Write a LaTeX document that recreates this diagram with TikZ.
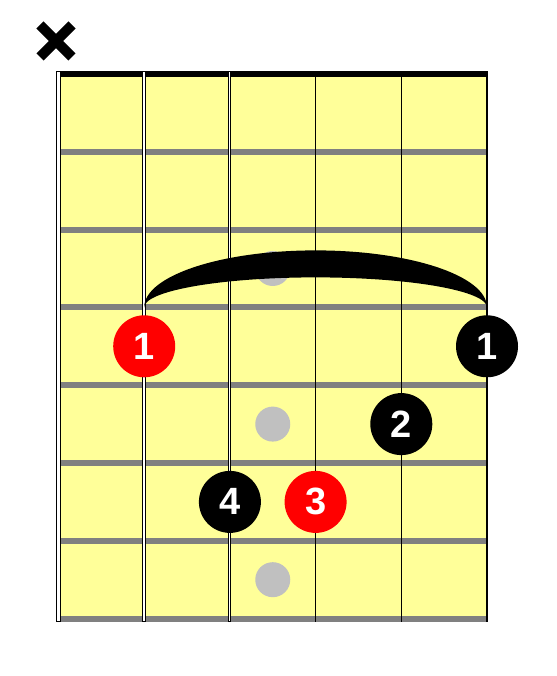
\documentclass[tikz,border=0pt]{standalone}
\usepackage{fontspec}
\setmainfont{Liberation Sans}
\usepackage{tikz}

\definecolor{board}{HTML}{FFFF99}
\definecolor{fretgray}{HTML}{808080}
\definecolor{dotgray}{HTML}{C0C0C0}

\begin{document}
\begin{tikzpicture}[x=1pt, y=1pt,
        finger/.style={circle, fill=black, text=white, minimum size=62pt, inner sep=0pt,
                       font=\fontsize{38}{38}\selectfont\bfseries},
        root/.style={finger, fill=red},
        marker/.style={circle, fill=dotgray, minimum size=35pt, inner sep=0pt}]
                \useasboundingbox (0,0) rectangle (556,676);

                % Fretboard
                \fill[board] (58.5,57.4) rectangle (487,602);
                % Frets (spacing 77.8)
                \foreach \k in {1,...,7}
                    \fill[fretgray] (58.5,{602-77.8*\k-3}) rectangle (487,{602-77.8*\k+3});
                % Nut
                \fill[black] (57,599) rectangle (487,605);

                % Position markers on frets 3, 5 and 7
                \node[marker] (m3) at (272.75,407.5) {};
                \node[marker] (m5) at (272.75,251.9) {};
                \node[marker] (m7) at (272.75,96.3) {};

                % Strings - the three low ones are wound (white core)
                \foreach \x/\outer/\inner in {58.5/5/3, 144.2/4.5/2.4, 229.9/3/1}{
                    \draw[line width=\outer pt] (\x,54) -- (\x,605);
                    \draw[white, line width=\inner pt] (\x,55) -- (\x,604);
                }
                \foreach \x/\w in {315.6/1.2, 401.3/1.4, 487/2}
                    \draw[line width=\w pt] (\x,54) -- (\x,605);

                % Muted low string
                \draw[line width=10pt] (40,651) -- (72,619) (40,619) -- (72,651);

                % Barre across strings 2 to 6, resting on the third fret
                \coordinate (b2) at (144.2,368.6);
                \coordinate (b6) at (487,368.6);
                \fill (b2) arc[start angle=180, end angle=0, x radius=171.4pt, y radius=57pt]
                      arc[start angle=0, end angle=180, x radius=171.4pt, y radius=30pt] -- cycle;

                % Fingers
                \node[root] (f1) at (144.2,329.7) {1};
                \node[finger] (f1b) at (487,329.7) {1};
                \node[finger] (f2) at (401.3,251.9) {2};
                \node[finger] (f4) at (229.9,174.1) {4};
                \node[root] (f3) at (315.6,174.1) {3};

            \end{tikzpicture}
\end{document}
